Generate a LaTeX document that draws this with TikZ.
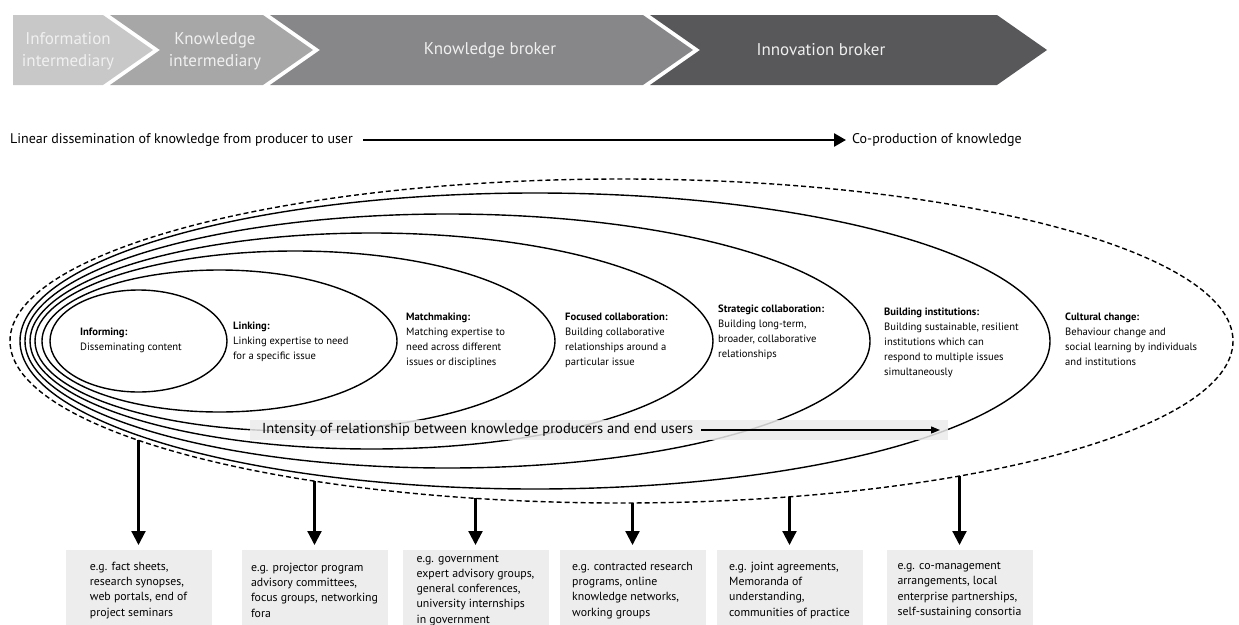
\documentclass[tikz,border=0pt]{standalone}
\usepackage{fontspec}
\setmainfont{PT Sans}
\usetikzlibrary{arrows.meta}

\definecolor{chevA}{HTML}{C8C8C8}
\definecolor{chevB}{HTML}{A7A7A8}
\definecolor{chevC}{HTML}{87878A}
\definecolor{chevD}{HTML}{58585B}
\definecolor{boxgray}{HTML}{EDEDED}
\definecolor{stripgray}{HTML}{EBEBEB}

\begin{document}
\begin{tikzpicture}[x = 1pt, y = -1pt,
	chevtext/.style = {text = white!94!black, align = center, font = \fontsize{17}{22}\selectfont},
	lbl/.style = {anchor = west, align = left, inner sep = 0pt, font = \fontsize{10.6}{15}\selectfont},
	egbox/.style = {fill = boxgray, anchor = north, align = left, minimum width = 146pt, minimum height = 80pt, inner sep = 0pt, font = \fontsize{11.8}{15.3}\selectfont},
	downarrow/.style = {-{Triangle[length = 14pt, width = 14pt]}, line width = 2.2pt, shorten > = 5pt}
]

\useasboundingbox (0,0) rectangle (1239,624);
\clip (0,0) rectangle (1239,624);

% chevrons
\foreach \s/\n/\c/\col in {13/0/103/chevA, 110/50/263/chevB, 270/50/643/chevC, 650/50/997/chevD} {
	\fill[\col] (\s,15) -- (\c,15) -- ({\c + 50},50) -- (\c,85) -- (\s,85) -- ({\s + \n},50) -- cycle;
}
\node[chevtext] (info) at (68,51) {Information\\intermediary};
\node[chevtext] (kint) at (215,51) {Knowledge\\intermediary};
\node[chevtext] (kbro) at (490,50) {Knowledge broker};
\node[chevtext] (ibro) at (821,50) {Innovation broker};

\node[anchor = west, inner sep = 0pt, font = \fontsize{14}{16}\selectfont] (lin) at (10,140) {Linear dissemination of knowledge from producer to user};
\node[anchor = west, inner sep = 0pt, font = \fontsize{14}{16}\selectfont] (cop) at (852,140) {Co-production of knowledge};
\draw[-{Triangle[length = 12pt, width = 13pt]}, line width = 2.6pt, shorten < = 10pt, shorten > = 6pt] (lin) -- (cop);

% nested ellipses
\foreach \l/\r/\h in {50/227/51, 42/397/71, 35/555/90, 30/713/108, 25/870/127, 20/1050/148} {
	\draw[line width = 1.4pt] ({(\l + \r)/2},341) ellipse [x radius = {(\r - \l)/2}, y radius = \h];
}
\draw[line width = 1.4pt, dash pattern = on 5pt off 3pt] (621.5,341) ellipse [x radius = 611.5, y radius = 162];

\node[lbl] (inf) at (80,340.5) {\textbf{Informing:}\\Disseminating content};
\node[lbl] (lnk) at (233,342) {\textbf{Linking:}\\Linking expertise to need\\for a specific issue};
\node[lbl] (mat) at (406,340.5) {\textbf{Matchmaking:}\\Matching expertise to\\need across different\\issues or disciplines};
\node[lbl] (foc) at (565,340.5) {\textbf{Focused collaboration:}\\Building collaborative\\relationships around a\\particular issue};
\node[lbl] (str) at (718,332.5) {\textbf{Strategic collaboration:}\\Building long-term,\\broader, collaborative\\relationships};
\node[lbl] (bui) at (884,342.5) {\textbf{Building institutions:}\\Building sustainable, resilient\\institutions which can\\respond to multiple issues\\simultaneously};
\node[lbl] (cul) at (1065,339) {\textbf{Cultural change:}\\Behaviour change and\\social learning by individuals\\and institutions};

% intensity strip
\fill[stripgray, fill opacity = 0.85] (250,420) rectangle (948,440);
\node[anchor = west, inner sep = 0pt, font = \fontsize{14.5}{16}\selectfont] (ints) at (262,430) {Intensity of relationship between knowledge producers and end users};
\coordinate (intsend) at (940,430);
\draw[-{Triangle[length = 9pt, width = 7pt]}, line width = 1.3pt, shorten < = 8pt] (ints) -- (intsend);

% examples
\node[egbox] (ex1) at (138.5,550) {e.g. fact sheets,\\research synopses,\\web portals, end of\\project seminars};
\node[egbox] (ex2) at (314.5,550) {e.g. projector program\\advisory committees,\\focus groups, networking\\fora};
\node[egbox] (ex3) at (475.5,550) {e.g. government\\expert advisory groups,\\general conferences,\\university internships\\in government};
\node[egbox] (ex4) at (632.5,550) {e.g. contracted research\\programs, online\\knowledge networks,\\working groups};
\node[egbox] (ex5) at (789.5,550) {e.g. joint agreements,\\Memoranda of\\understanding,\\communities of practice};
\node[egbox] (ex6) at (959.5,550) {e.g. co-management\\arrangements, local\\enterprise partnerships,\\self-sustaining consortia};

\foreach \x [count = \i] in {138.5, 314.5, 475.5, 632.5, 789.5, 959.5} {
	\pgfmathsetmacro{\ytop}{341 + 162*sqrt(1 - ((\x - 621.5)/611.5)^2)}
	\coordinate (top\i) at (\x,\ytop);
	\draw[downarrow] (top\i) -- (ex\i);
}

\end{tikzpicture}
\end{document}
